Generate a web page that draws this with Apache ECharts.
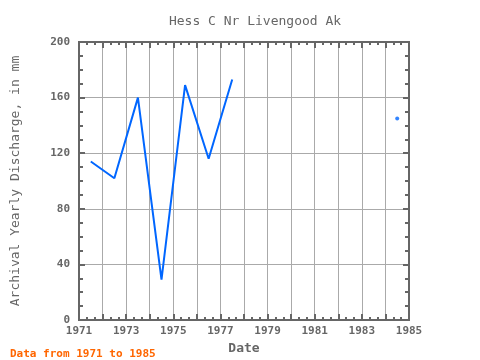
<!DOCTYPE html>
<html><head><meta charset="utf-8">
<script src="https://cdn.jsdelivr.net/npm/echarts@6/dist/echarts.min.js"></script>
<style>html,body{margin:0;padding:0;background:#fff}#c{width:480px;height:360px}</style>
</head><body><div id="c"></div>
<script>
const years = [1971.5,1972.5,1973.5,1974.5,1975.5,1976.5,1977.5,1978.5,1979.5,1980.5,1981.5,1982.5,1983.5,1984.5];
const discharge = [114,102,160,29,169,116,173,null,null,null,null,null,null,145];
const yTicks = [0,40,80,120,160,200];
const titleText = 'Hess C Nr Livengood Ak';
const footText = 'Data from 1971 to 1985';

const lineData = years.map((y,i)=>[y,discharge[i]]);
const isolated = lineData.filter((p,i)=>p[1]!=null && (i===0||discharge[i-1]==null) && (i===discharge.length-1||discharge[i+1]==null));
const font = 'DejaVu Sans Mono';
const gray = '#666';
const chart = echarts.init(document.getElementById('c'));
function ax(pos,min,max,interval,len,extra){
  return Object.assign({type:'value',position:pos,min:min,max:max,interval:interval,
    axisLine:{show:true,onZero:false,lineStyle:{color:gray,width:2}},
    axisTick:{show:true,inside:true,length:len,lineStyle:{color:gray,width:2}},
    axisLabel:{show:false},splitLine:{show:false}},extra||{});
}
const xMin = 1971, xMax = 1985;
const yMin = yTicks[0], yMax = yTicks[yTicks.length-1];
const xSub = (xMax-xMin)*3;
chart.setOption({
  animation:false,
  grid:{left:79,right:71,top:42,bottom:38},
  title:[{text:titleText,left:250,top:10,textAlign:'center',textStyle:{fontFamily:font,fontSize:13,fontWeight:'normal',color:gray}},
         {text:footText,left:5,top:344,textStyle:{fontFamily:font,fontSize:11,fontWeight:'bold',color:'#ff6600'}}],
  xAxis:[
    ax('bottom',xMin,xMax,1,6,{name:'Date',nameLocation:'middle',nameGap:22,
      nameTextStyle:{fontFamily:font,fontSize:13,fontWeight:'bold',color:gray},
      axisLabel:{show:true,fontFamily:font,fontSize:11,fontWeight:'bold',color:gray,margin:6,
        formatter:v=>((v-xMin)%2===0?String(v):'')},
      splitLine:{show:true,lineStyle:{color:'#aaa',width:1}}}),
    ax('bottom',0,xSub,1,3),
    ax('top',xMin,xMax,1,6),
    ax('top',0,xSub,1,3)],
  yAxis:[
    ax('left',yMin,yMax,40,6,{name:'Archival Yearly Discharge, in mm',nameLocation:'middle',nameGap:57,
      nameTextStyle:{fontFamily:font,fontSize:13,color:gray},
      axisLabel:{show:true,fontFamily:font,fontSize:11,fontWeight:'bold',color:gray,margin:9},
      splitLine:{show:true,lineStyle:{color:'#aaa',width:1}}}),
    ax('left',yMin,yMax,10,4),
    ax('right',yMin,yMax,40,6),
    ax('right',yMin,yMax,10,4)],
  series:[{type:'line',data:lineData,showSymbol:false,connectNulls:false,lineStyle:{color:'#0066ff',width:2},itemStyle:{color:'#0066ff'}},
          {type:'scatter',data:isolated,symbolSize:4,itemStyle:{color:'#0066ff'}}]
});
</script></body></html>
